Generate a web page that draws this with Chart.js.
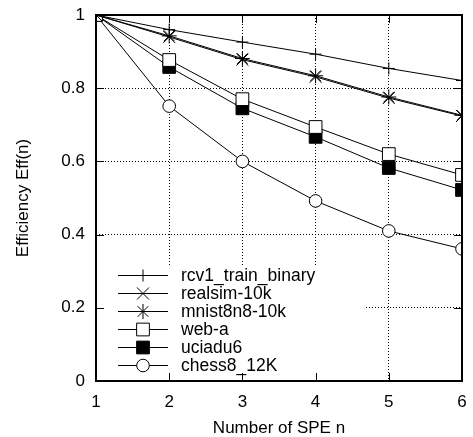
<!DOCTYPE html>
<html><head><meta charset="utf-8">
<script src="https://cdn.jsdelivr.net/npm/chart.js@4/dist/chart.umd.min.js"></script>
<style>html,body{margin:0;padding:0;background:#fff}#wrap{width:473px;height:437px}</style>
</head><body><div id="wrap"><canvas id="c" width="473" height="437"></canvas></div>
<script>
const xValues = [1, 2, 3, 4, 5, 6];
const rcv1 = [1, 0.96, 0.926, 0.893, 0.854, 0.821];
const realsim = [1, 0.94, 0.878, 0.831, 0.773, 0.724];
const mnist = [1, 0.943, 0.881, 0.834, 0.776, 0.726];
const webA = [1, 0.877, 0.77, 0.694, 0.62, 0.563];
const uciadu6 = [1, 0.858, 0.745, 0.667, 0.582, 0.522];
const chess = [1, 0.751, 0.6, 0.492, 0.41, 0.361];
const seriesNames = ['rcv1_train_binary', 'realsim-10k', 'mnist8n8-10k', 'web-a', 'uciadu6', 'chess8_12K'];
const yTicks = [0, 0.2, 0.4, 0.6, 0.8, 1];

const FONT = "'Liberation Sans', Arial, sans-serif";
const styles = [
  {pointStyle:'cross', radius:6, fill:'#000'},
  {pointStyle:'crossRot', radius:8.5, fill:'#000'},
  {pointStyle:'star', radius:7.5, fill:'#000'},
  {pointStyle:'rect', radius:9, fill:'#fff'},
  {pointStyle:'rect', radius:9, fill:'#000'},
  {pointStyle:'circle', radius:6.3, fill:'#fff'}
];
const allData = [rcv1, realsim, mnist, webA, uciadu6, chess];
const datasets = allData.map((arr, i) => ({
  label: seriesNames[i],
  data: arr.map((v, k) => ({x: xValues[k], y: v})),
  borderColor: '#000', borderWidth: 1,
  pointStyle: styles[i].pointStyle, pointRadius: styles[i].radius,
  pointBackgroundColor: styles[i].fill, pointBorderColor: '#000', pointBorderWidth: 1,
  fill: false, tension: 0
}));

function marker(ctx, st, x, y) {
  const r = st.radius;
  ctx.save();
  ctx.strokeStyle = '#000'; ctx.lineWidth = 1; ctx.fillStyle = st.fill;
  ctx.beginPath();
  if (st.pointStyle === 'cross' || st.pointStyle === 'star') {
    ctx.moveTo(x - r, y); ctx.lineTo(x + r, y); ctx.moveTo(x, y - r); ctx.lineTo(x, y + r);
  }
  if (st.pointStyle === 'crossRot' || st.pointStyle === 'star') {
    const d = r * Math.SQRT1_2;
    ctx.moveTo(x - d, y - d); ctx.lineTo(x + d, y + d); ctx.moveTo(x - d, y + d); ctx.lineTo(x + d, y - d);
  }
  if (st.pointStyle === 'rect') {
    const s = r * Math.SQRT1_2;
    ctx.rect(x - s, y - s, 2 * s, 2 * s); ctx.fill();
  }
  if (st.pointStyle === 'circle') {
    ctx.arc(x, y, r, 0, Math.PI * 2); ctx.fill();
  }
  ctx.stroke();
  ctx.restore();
}

const overlay = {
  id: 'overlay',
  afterDatasetsDraw(chart) {
    const ctx = chart.ctx, a = chart.chartArea;
    const xs = chart.scales.x, ys = chart.scales.y;
    // legend
    ctx.save();
    ctx.fillStyle = '#fff';
    ctx.fillRect(a.left + 1, 265, 365 - a.left - 1, a.bottom - 265 - 1);
    ctx.font = '17.5px ' + FONT;
    ctx.textBaseline = 'middle';
    ctx.fillStyle = '#000';
    const rows = [275, 293, 311, 329, 347, 365];
    chart.data.datasets.forEach((ds, i) => {
      const y = rows[i];
      ctx.strokeStyle = '#000'; ctx.lineWidth = 1;
      ctx.beginPath(); ctx.moveTo(118, y + 0.5); ctx.lineTo(168, y + 0.5); ctx.stroke();
      marker(ctx, styles[i], 143, y + 0.5);
      ctx.fillStyle = '#000';
      ctx.fillText(ds.label, 181, y + 1);
    });
    // ticks (inward, mirrored)
    ctx.strokeStyle = '#000'; ctx.lineWidth = 1;
    ctx.beginPath();
    xValues.forEach(v => {
      const px = Math.round(xs.getPixelForValue(v)) + 0.5;
      ctx.moveTo(px, a.bottom); ctx.lineTo(px, a.bottom - 8);
      ctx.moveTo(px, a.top); ctx.lineTo(px, a.top + 8);
    });
    yTicks.forEach(v => {
      const py = Math.round(ys.getPixelForValue(v)) + 0.5;
      ctx.moveTo(a.left, py); ctx.lineTo(a.left + 8, py);
      ctx.moveTo(a.right, py); ctx.lineTo(a.right - 8, py);
    });
    ctx.stroke();
    // border
    ctx.lineWidth = 2;
    ctx.strokeRect(a.left, a.top, a.right - a.left, a.bottom - a.top);
    ctx.restore();
  }
};

function zeroPad(s) { s.paddingTop = 0; s.paddingBottom = 0; s.paddingLeft = 0; s.paddingRight = 0; }

new Chart(document.getElementById('c'), {
  type: 'line',
  data: { datasets },
  options: {
    responsive: false, animation: false, devicePixelRatio: 1,
    layout: { padding: { top: 15, right: 11, left: 0, bottom: 0 } },
    plugins: { legend: { display: false }, tooltip: { enabled: false } },
    scales: {
      x: {
        type: 'linear', min: 1, max: 6,
        afterFit: s => { s.height = 56; zeroPad(s); },
        ticks: { stepSize: 1, color: '#000', font: { family: FONT, size: 17 }, padding: 11, maxRotation: 0 },
        grid: { color: '#000', lineWidth: 1, drawTicks: false },
        border: { display: false, dash: [1, 2] },
        title: { display: true, text: 'Number of SPE n', color: '#000', font: { family: FONT, size: 17 }, padding: { top: 4, bottom: -2 } }
      },
      y: {
        min: 0, max: 1,
        afterFit: s => { s.width = 96; zeroPad(s); },
        ticks: { stepSize: 0.2, color: '#000', font: { family: FONT, size: 17 }, padding: 11,
          callback: v => String(Math.round(v * 10) / 10) },
        grid: { color: '#000', lineWidth: 1, drawTicks: false },
        border: { display: false, dash: [1, 2] },
        title: { display: true, text: 'Efficiency Eff(n)', color: '#000', font: { family: FONT, size: 17 }, padding: { top: 13, bottom: 0 } }
      }
    }
  },
  plugins: [overlay]
});
</script></body></html>
